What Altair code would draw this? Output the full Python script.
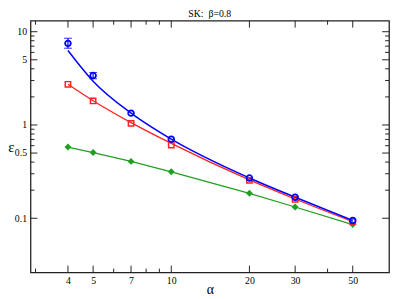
import altair as alt
import pandas as pd

# ---- data ----
alpha = [4, 5, 7, 10, 20, 30, 50]
eps_blue = [7.5, 3.39, 1.34, 0.705, 0.27, 0.168, 0.0946]
eps_red = [2.73, 1.81, 1.04, 0.61, 0.255, 0.16, 0.092]
eps_green = [0.58, 0.506, 0.407, 0.315, 0.185, 0.132, 0.0855]

err_alpha = [4, 5]
err_hi = [8.5, 3.65]
err_lo = [6.65, 3.13]

fit_alpha = [4, 5, 7, 10, 20, 30, 50]
fit_blue = [6.3, 2.95, 1.34, 0.705, 0.27, 0.168, 0.0945]
fit_red = [2.73, 1.82, 1.06, 0.635, 0.258, 0.161, 0.092]

x_major = [4, 5, 7, 10, 20, 30, 50]
x_minor = [3, 6, 8, 9, 40]
y_major = [0.1, 0.5, 1, 5, 10]
y_minor = [0.2, 0.3, 0.4, 0.6, 0.7, 0.8, 0.9, 2, 3, 4, 6, 7, 8, 9]

W, H = 366, 257
SERIF = "Times New Roman"
BLUE, RED, GREEN = "#0000ff", "#ff2020", "#20a020"

xs = alt.Scale(type="log", domain=[2.87, 69], nice=False)
ys = alt.Scale(type="log", domain=[0.0262, 13.1], nice=False)

xaxis = alt.Axis(values=x_major, format="~g", title="α", ticks=False, domain=False,
                 grid=False, labelFont=SERIF, labelFontSize=10, labelColor="black",
                 labelPadding=3, titleFont=SERIF, titleFontSize=14,
                 titleFontWeight="normal", titleColor="black",
                 titleBaseline="alphabetic", titleY=21)
yaxis = alt.Axis(values=y_major, format="~g", title="ε", ticks=False, domain=False,
                 grid=False, labelFont=SERIF, labelFontSize=10, labelColor="black",
                 labelPadding=4, titleFont=SERIF, titleFontSize=15,
                 titleFontWeight="normal", titleColor="black", titleAngle=0,
                 titleAlign="center", titleBaseline="middle", titleX=-20, titleY=128)


def X(f="a"):
    return alt.X(f"{f}:Q", scale=xs, axis=xaxis)


def Y(f="e"):
    return alt.Y(f"{f}:Q", scale=ys, axis=yaxis)


pts_blue = pd.DataFrame({"a": alpha, "e": eps_blue})
pts_red = pd.DataFrame({"a": alpha, "e": eps_red})
pts_green = pd.DataFrame({"a": alpha, "e": eps_green})
fitb = pd.DataFrame({"a": fit_alpha, "e": fit_blue})
fitr = pd.DataFrame({"a": fit_alpha, "e": fit_red})
err = pd.DataFrame({"a": err_alpha, "e": err_hi, "e2": err_lo})

layers = []
layers.append(alt.Chart(pts_green).mark_line(color=GREEN, strokeWidth=1.3).encode(x=X(), y=Y()))
layers.append(alt.Chart(fitr).mark_line(color=RED, strokeWidth=1.3, interpolate="monotone").encode(x=X(), y=Y()))
layers.append(alt.Chart(fitb).mark_line(color=BLUE, strokeWidth=1.5, interpolate="monotone").encode(x=X(), y=Y()))

# error bars
layers.append(alt.Chart(err).mark_rule(color=BLUE, strokeWidth=1.2).encode(x=X(), y=Y(), y2="e2:Q"))
layers.append(alt.Chart(err).mark_tick(color=BLUE, orient="horizontal", size=8, thickness=1.2).encode(x=X(), y=Y()))
layers.append(alt.Chart(err).mark_tick(color=BLUE, orient="horizontal", size=8, thickness=1.2).encode(x=X(), y=Y("e2")))

# markers
layers.append(alt.Chart(pts_green).mark_point(shape="diamond", filled=True, color=GREEN, size=50, opacity=1).encode(x=X(), y=Y()))
layers.append(alt.Chart(pts_red).mark_point(shape="square", filled=False, color=RED, size=30, strokeWidth=1.5, opacity=1).encode(x=X(), y=Y()))
layers.append(alt.Chart(pts_blue).mark_point(shape="circle", filled=False, color=BLUE, size=34, strokeWidth=1.8, opacity=1).encode(x=X(), y=Y()))

# inward ticks on all four sides
TK = "#222222"
for vals, ln in ((x_major, 7), (x_minor, 4)):
    d = pd.DataFrame({"a": vals})
    layers.append(alt.Chart(d).mark_rule(color=TK, strokeWidth=1).encode(x=X(), y=alt.value(H), y2=alt.value(H - ln)))
    layers.append(alt.Chart(d).mark_rule(color=TK, strokeWidth=1).encode(x=X(), y=alt.value(0), y2=alt.value(ln)))
for vals, ln in ((y_major, 7), (y_minor, 4)):
    d = pd.DataFrame({"e": vals})
    layers.append(alt.Chart(d).mark_rule(color=TK, strokeWidth=1).encode(y=Y(), x=alt.value(0), x2=alt.value(ln)))
    layers.append(alt.Chart(d).mark_rule(color=TK, strokeWidth=1).encode(y=Y(), x=alt.value(W), x2=alt.value(W - ln)))

chart = alt.layer(*layers).properties(
    width=W, height=H,
    title=alt.TitleParams("SK:\u00a0 β=0.8", font=SERIF, fontSize=10, fontWeight="normal",
                          color="black", anchor="middle", offset=1),
    padding={"left": 23, "top": 10, "right": 2, "bottom": 24},
    autosize=alt.AutoSizeParams(type="none"),
).configure_view(stroke="#222222", strokeWidth=1.3)

chart.save("out.html", embed_options={"renderer": "svg", "actions": False})
